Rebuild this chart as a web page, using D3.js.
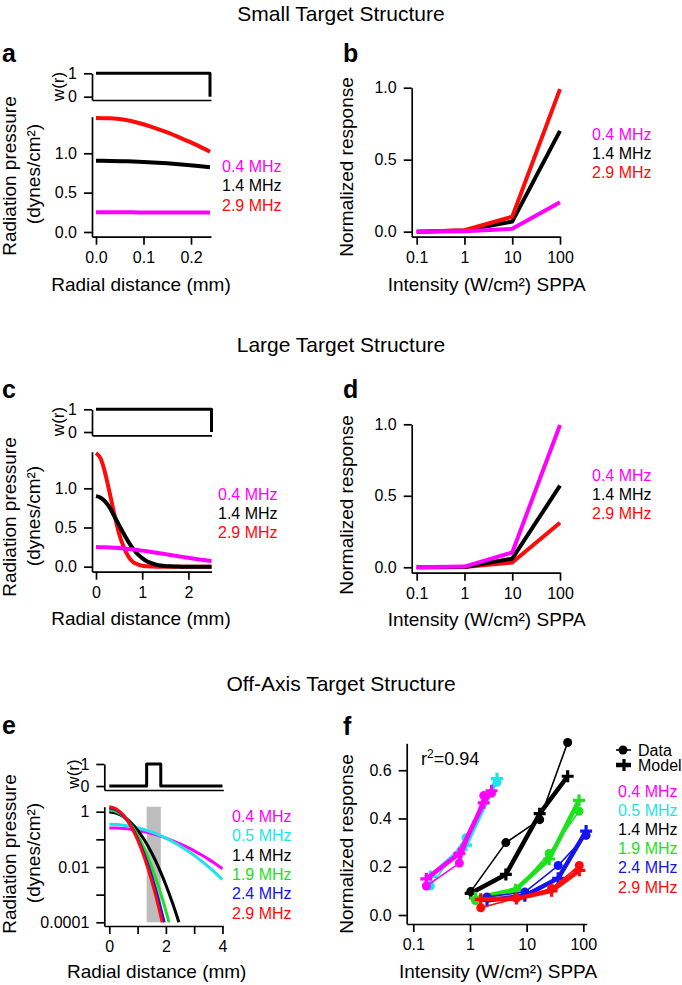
<!DOCTYPE html>
<html><head><meta charset="utf-8">
<script src="https://cdn.jsdelivr.net/npm/d3@7"></script>
<style>body{margin:0;background:#fff}svg{display:block}</style>
</head><body><script>
// ================= DATA =================
const freqLabels3 = ["0.4 MHz", "1.4 MHz", "2.9 MHz"];
const freqLabels6 = ["0.4 MHz", "0.5 MHz", "1.4 MHz", "1.9 MHz", "2.4 MHz", "2.9 MHz"];

// Panel a : small target, radiation pressure vs radial distance (mm)
const aRadius = [0, 0.03, 0.06, 0.09, 0.12, 0.15, 0.18, 0.21, 0.24];
const aP04 = [0.25, 0.25, 0.25, 0.249, 0.249, 0.248, 0.248, 0.247, 0.246];
const aP14 = [0.905, 0.903, 0.899, 0.893, 0.884, 0.872, 0.858, 0.841, 0.822];
const aP29 = [1.45, 1.445, 1.425, 1.385, 1.33, 1.265, 1.19, 1.11, 1.02];
const aWr = [0, 0.24, 0.24];
const aW = [1, 1, 0];

// Panel b : small target, normalized response vs intensity
const intensity = [0.1, 1, 10, 100];
const bR04 = [0, 0.003, 0.02, 0.204];
const bR14 = [0, 0.008, 0.07, 0.70];
const bR29 = [0, 0.01, 0.104, 0.99];

// Panel c : large target
const cRadius = [0, 0.1, 0.2, 0.3, 0.4, 0.5, 0.6, 0.7, 0.8, 0.9, 1.0, 1.1, 1.2, 1.3, 1.4, 1.5, 1.6, 1.7, 1.8, 1.9, 2.0, 2.1, 2.2, 2.3, 2.4, 2.5];
const cP04 = [0.25, 0.2495, 0.248, 0.2455, 0.242, 0.238, 0.233, 0.227, 0.220, 0.213, 0.205, 0.197, 0.188, 0.179, 0.169, 0.160, 0.150, 0.141, 0.131, 0.122, 0.113, 0.104, 0.095, 0.087, 0.079, 0.072];
const cP14 = [0.90, 0.88, 0.83, 0.75, 0.64, 0.53, 0.42, 0.32, 0.23, 0.16, 0.11, 0.07, 0.045, 0.026, 0.015, 0.008, 0.004, 0.002, 0.001, 0, 0, 0, 0, 0, 0, 0];
const cP29 = [1.45, 1.38, 1.19, 0.93, 0.66, 0.42, 0.25, 0.13, 0.06, 0.03, 0.012, 0.005, 0.002, 0, 0, 0, 0, 0, 0, 0, 0, 0, 0, 0, 0, 0];
const cWr = [0, 2.5, 2.5];
const cW = [1, 1, 0];

// Panel d : large target response
const dR04 = [0, 0.005, 0.103, 0.995];
const dR14 = [0, 0.002, 0.06, 0.571];
const dR29 = [0, 0.001, 0.033, 0.312];

// Panel e : off-axis target (log pressure)
const eWr = [0, 1.32, 1.32, 1.82, 1.82, 4];
const eW = [0, 0, 1, 1, 0, 0];
const eBand = [1.32, 1.82];
const eRadiusWide = [0, 0.25, 0.5, 0.75, 1, 1.25, 1.5, 1.75, 2, 2.25, 2.5, 2.75, 3, 3.25, 3.5, 3.75, 4];
const eP04 = [0.26, 0.2566, 0.247, 0.2307, 0.21, 0.1866, 0.161, 0.1357, 0.111, 0.0888, 0.069, 0.0522, 0.0385, 0.0276, 0.0193, 0.0131, 0.0087];
const eP05 = [0.35, 0.344, 0.326, 0.298, 0.262, 0.223, 0.183, 0.145, 0.111, 0.0816, 0.0579, 0.0397, 0.0263, 0.0167, 0.0103, 0.0061, 0.0035];
const eR14 = [0, 0.25, 0.5, 0.75, 1, 1.25, 1.5, 1.75, 2, 2.25, 2.46];
const eP14 = [0.97, 0.883, 0.664, 0.413, 0.213, 0.0907, 0.032, 0.00934, 0.00224, 0.000447, 0.0001];
const eR19 = [0, 0.25, 0.5, 0.75, 1, 1.25, 1.5, 1.75, 2, 2.11];
const eP19 = [1.15, 1.01, 0.68, 0.353, 0.140, 0.0432, 0.0101, 0.00184, 0.00026, 0.0001];
const eR24 = [0, 0.25, 0.5, 0.75, 1, 1.25, 1.5, 1.75, 1.94];
const eP24 = [1.35, 1.153, 0.718, 0.326, 0.1077, 0.026, 0.00458, 0.000588, 0.0001];
const eR29 = [0, 0.25, 0.5, 0.75, 1, 1.25, 1.5, 1.75, 1.87];
const eP29 = [1.5, 1.26, 0.754, 0.319, 0.0959, 0.0204, 0.00308, 0.00033, 0.0001];

// Panel f : data vs model
const f04I = [0.17, 0.65, 1.75, 2.4];
const f04Data = [0.12, 0.215, 0.495, 0.505];
const f04Model = [0.15, 0.255, 0.465, 0.515];
const f05I = [0.2, 0.85, 3.0];
const f05Data = [0.12, 0.32, 0.55];
const f05Model = [0.16, 0.29, 0.565];
const f14I = [1.03, 4.3, 17, 53];
const f14Data = [0.097, 0.30, 0.395, 0.715];
const f14Model = [0.09, 0.168, 0.42, 0.575];
const f19I = [1.25, 6.4, 25, 84];
const f19Data = [0.06, 0.10, 0.255, 0.43];
const f19Model = [0.07, 0.105, 0.232, 0.475];
const f24I = [2.0, 9.3, 36, 112];
const f24Data = [0.075, 0.095, 0.205, 0.33];
const f24Model = [0.06, 0.08, 0.152, 0.348];
const f29I = [1.55, 6.6, 27.5, 85];
const f29Data = [0.03, 0.07, 0.11, 0.205];
const f29Model = [0.065, 0.068, 0.10, 0.185];
const rSquared = "0.94";

// ================= STYLE =================
const FONT = "'Liberation Sans', Arial, Helvetica, sans-serif";
const C = {"0.4": "#ff00ff", "0.5": "#1ee3ea", "1.4": "#000000", "1.9": "#1ee01e", "2.4": "#1414f0", "2.9": "#ff0a0a"};
const col3 = [C["0.4"], C["1.4"], C["2.9"]];
const col6 = [C["0.4"], C["0.5"], C["1.4"], C["1.9"], C["2.4"], C["2.9"]];
const TICK_FS = 16, TITLE_FS = 19, LEG_FS = 16;

const svg = d3.select("body").append("svg").attr("width", 682).attr("height", 985)
  .attr("font-family", FONT);

function styleAxis(g) {
  g.attr("font-family", FONT).attr("font-size", TICK_FS);
  g.selectAll("path.domain").attr("stroke", "#000").attr("stroke-width", 1.7);
  g.selectAll(".tick line").attr("stroke", "#000").attr("stroke-width", 1.7);
  g.selectAll(".tick text").attr("fill", "#000");
}
function addAxis(gen, tx, ty) {
  const g = svg.append("g").attr("transform", `translate(${tx},${ty})`).call(gen);
  styleAxis(g);
  return g;
}
function line(xs, ys, xS, yS, color, w, curve) {
  const pts = xs.map((x, i) => [x, ys[i]]);
  svg.append("path").datum(pts)
    .attr("d", d3.line().x(d => xS(d[0])).y(d => yS(d[1])).curve(curve || d3.curveLinear))
    .attr("fill", "none").attr("stroke", color).attr("stroke-width", w)
    .attr("stroke-linejoin", "round");
}
function text(x, y, s, o = {}) {
  const t = svg.append("text").attr("x", x).attr("y", y).text(s)
    .attr("font-size", o.fs || TITLE_FS).attr("fill", o.fill || "#000")
    .attr("text-anchor", o.anchor || "start");
  if (o.bold) t.attr("font-weight", "bold");
  return t;
}
function vtext(x, y, s, fs) {
  svg.append("text").attr("transform", `translate(${x},${y}) rotate(-90)`)
    .attr("text-anchor", "middle").attr("font-size", fs || TITLE_FS).attr("fill", "#000").text(s);
}
function legend(x, y0, dy, labels, colors) {
  labels.forEach((l, i) => text(x, y0 + i * dy, l, {fs: LEG_FS, fill: colors[i]}));
}
const TK = 8, PAD = 7;

// ================= SECTION TITLES =================
text(341, 21, "Small Target Structure", {fs: 21, anchor: "middle"});
text(341, 352, "Large Target Structure", {fs: 21, anchor: "middle"});
text(341, 691, "Off-Axis Target Structure", {fs: 21, anchor: "middle"});

// ================= PANEL A =================
text(2, 62, "a", {fs: 25, bold: true});
const xA = d3.scaleLinear().domain([-0.0084, 0.2421]).range([92, 211]);
const yWa = d3.scaleLinear().domain([-0.141, 1]).range([100, 73.3]);
const yA = d3.scaleLinear().domain([-0.06, 1.465]).range([236.7, 116.7]);
addAxis(d3.axisLeft(yWa).tickValues([0, 1]).tickFormat(d3.format("d")).tickSize(TK).tickPadding(PAD).tickSizeOuter(0), 92, 0);
addAxis(d3.axisBottom(xA).tickValues([]).tickSizeOuter(0), 0, 100);
line(aWr, aW, xA, yWa, "#000", 3);
addAxis(d3.axisLeft(yA).tickValues([0, 0.5, 1.0]).tickFormat(d3.format(".1f")).tickSize(TK).tickPadding(PAD).tickSizeOuter(0), 92, 0);
addAxis(d3.axisBottom(xA).tickValues([0, 0.1, 0.2]).tickFormat(d3.format(".1f")).tickSize(TK).tickPadding(PAD).tickSizeOuter(0), 0, 236.7);
line(aRadius, aP29, xA, yA, C["2.9"], 4, d3.curveMonotoneX);
line(aRadius, aP14, xA, yA, C["1.4"], 4, d3.curveMonotoneX);
line(aRadius, aP04, xA, yA, C["0.4"], 4, d3.curveMonotoneX);
legend(222, 172, 19.3, freqLabels3, col3);
vtext(64, 86.5, "w(r)", 17);
vtext(16, 176, "Radiation pressure");
vtext(40, 174, "(dynes/cm²)");
text(141, 291, "Radial distance (mm)", {anchor: "middle"});

// ================= PANEL B =================
text(343, 62, "b", {fs: 25, bold: true});
const xB = d3.scaleLog().domain([0.0786, 100]).range([411.7, 560]);
const yB = d3.scaleLinear().domain([-0.035, 1.0]).range([236.7, 87.7]);
addAxis(d3.axisLeft(yB).tickValues([0, 0.5, 1.0]).tickFormat(d3.format(".1f")).tickSize(TK).tickPadding(PAD).tickSizeOuter(0), 411.7, 0);
addAxis(d3.axisBottom(xB).tickValues(intensity).tickFormat(d => String(d)).tickSize(TK).tickPadding(PAD).tickSizeOuter(0), 0, 236.7);
line(intensity, bR14, xB, yB, C["1.4"], 4);
line(intensity, bR29, xB, yB, C["2.9"], 4);
line(intensity, bR04, xB, yB, C["0.4"], 4);
legend(592, 140, 19, freqLabels3, col3);
vtext(353, 167, "Normalized response");
text(486.7, 291, "Intensity (W/cm²) SPPA", {anchor: "middle"});

// ================= PANEL C =================
text(2, 398, "c", {fs: 25, bold: true});
const xC = d3.scaleLinear().domain([-0.0866, 2.5]).range([92, 211.5]);
const yWc = d3.scaleLinear().domain([-0.145, 1]).range([435.3, 409.3]);
const yC = d3.scaleLinear().domain([-0.064, 1.467]).range([571.7, 451.7]);
addAxis(d3.axisLeft(yWc).tickValues([0, 1]).tickFormat(d3.format("d")).tickSize(TK).tickPadding(PAD).tickSizeOuter(0), 92, 0);
addAxis(d3.axisBottom(xC).tickValues([]).tickSizeOuter(0), 0, 435.3);
line(cWr, cW, xC, yWc, "#000", 3);
addAxis(d3.axisLeft(yC).tickValues([0, 0.5, 1.0]).tickFormat(d3.format(".1f")).tickSize(TK).tickPadding(PAD).tickSizeOuter(0), 92, 0);
addAxis(d3.axisBottom(xC).tickValues([0, 1, 2]).tickFormat(d3.format("d")).tickSize(TK).tickPadding(PAD).tickSizeOuter(0), 0, 571.7);
line(cRadius, cP29, xC, yC, C["2.9"], 4, d3.curveMonotoneX);
line(cRadius, cP14, xC, yC, C["1.4"], 4, d3.curveMonotoneX);
line(cRadius, cP04, xC, yC, C["0.4"], 4, d3.curveMonotoneX);
legend(218, 500, 19.2, freqLabels3, col3);
vtext(64, 421.5, "w(r)", 17);
vtext(16, 517, "Radiation pressure");
vtext(40, 516, "(dynes/cm²)");
text(141, 625, "Radial distance (mm)", {anchor: "middle"});

// ================= PANEL D =================
text(343, 398, "d", {fs: 25, bold: true});
const xD = d3.scaleLog().domain([0.0786, 100]).range([411.7, 560]);
const yD = d3.scaleLinear().domain([-0.038, 1.0]).range([572.7, 424.3]);
addAxis(d3.axisLeft(yD).tickValues([0, 0.5, 1.0]).tickFormat(d3.format(".1f")).tickSize(TK).tickPadding(PAD).tickSizeOuter(0), 411.7, 0);
addAxis(d3.axisBottom(xD).tickValues(intensity).tickFormat(d => String(d)).tickSize(TK).tickPadding(PAD).tickSizeOuter(0), 0, 572.7);
line(intensity, dR29, xD, yD, C["2.9"], 4);
line(intensity, dR14, xD, yD, C["1.4"], 4);
line(intensity, dR04, xD, yD, C["0.4"], 4);
legend(592, 481, 18.8, freqLabels3, col3);
vtext(353, 505, "Normalized response");
text(486.7, 626, "Intensity (W/cm²) SPPA", {anchor: "middle"});

// ================= PANEL E =================
text(2, 734, "e", {fs: 25, bold: true});
const xE = d3.scaleLinear().domain([-0.177, 4.03]).range([104.3, 223.3]);
const yWe = d3.scaleLinear().domain([-0.18, 1]).range([790, 764]);
const yE = d3.scaleLog().domain([7.35e-5, 1.517]).range([926, 806.7]);
addAxis(d3.axisLeft(yWe).tickValues([0, 1]).tickFormat(d3.format("d")).tickSize(TK).tickPadding(PAD).tickSizeOuter(0), 104.3, 0);
addAxis(d3.axisBottom(xE).tickValues([]).tickSizeOuter(0), 0, 790);
line(eWr, eW, xE, yWe, "#000", 3);
svg.append("rect").attr("x", xE(eBand[0])).attr("width", xE(eBand[1]) - xE(eBand[0]))
  .attr("y", yE(1.517)).attr("height", yE(0.0001) - yE(1.517)).attr("fill", "#bdbdbd");
const eLabels = {"1": "1", "0.01": "0.01", "0.0001": "0.0001"};
addAxis(d3.axisLeft(yE).tickValues([1, 0.1, 0.01, 0.001, 0.0001]).tickFormat(d => eLabels[String(d)] || "").tickSize(TK).tickPadding(PAD).tickSizeOuter(0), 104.3, 0);
addAxis(d3.axisBottom(xE).tickValues([0, 1, 2, 3, 4]).tickFormat(d => d % 2 === 0 ? String(d) : "").tickSize(TK).tickPadding(PAD).tickSizeOuter(0), 0, 926);
line(eRadiusWide, eP04, xE, yE, C["0.4"], 3, d3.curveMonotoneX);
line(eRadiusWide, eP05, xE, yE, C["0.5"], 3, d3.curveMonotoneX);
line(eR14, eP14, xE, yE, C["1.4"], 3, d3.curveMonotoneX);
line(eR19, eP19, xE, yE, C["1.9"], 3, d3.curveMonotoneX);
line(eR24, eP24, xE, yE, C["2.4"], 3, d3.curveMonotoneX);
line(eR29, eP29, xE, yE, C["2.9"], 3, d3.curveMonotoneX);
legend(232, 822, 19.3, freqLabels6, col6);
vtext(79, 774, "w(r)", 17);
vtext(16, 854, "Radiation pressure");
vtext(40, 853, "(dynes/cm²)");
text(156.7, 978, "Radial distance (mm)", {anchor: "middle"});

// ================= PANEL F =================
text(343, 735, "f", {fs: 25, bold: true});
const xF = d3.scaleLog().domain([0.0765, 114.8]).range([406.7, 586.7]);
const yF = d3.scaleLinear().domain([-0.0373, 0.7116]).range([924, 743.3]);
addAxis(d3.axisLeft(yF).tickValues([0, 0.2, 0.4, 0.6]).tickFormat(d3.format(".1f")).tickSize(TK).tickPadding(PAD).tickSizeOuter(0), 406.7, 0);
addAxis(d3.axisBottom(xF).tickValues(intensity).tickFormat(d => String(d)).tickSize(TK).tickPadding(PAD).tickSizeOuter(0), 0, 924);
const plusPath = "M-6,0H6M0,-6V6";
function series(I, dat, mod, color) {
  line(I, dat, xF, yF, color, 1.6);
  line(I, mod, xF, yF, color, 4.5);
  I.forEach((x, i) => {
    svg.append("circle").attr("cx", xF(x)).attr("cy", yF(dat[i])).attr("r", 4.5).attr("fill", color);
    svg.append("path").attr("d", plusPath).attr("transform", `translate(${xF(x)},${yF(mod[i])})`)
      .attr("stroke", color).attr("stroke-width", 3.2).attr("fill", "none");
  });
}
series(f05I, f05Data, f05Model, C["0.5"]);
series(f04I, f04Data, f04Model, C["0.4"]);
series(f14I, f14Data, f14Model, C["1.4"]);
series(f19I, f19Data, f19Model, C["1.9"]);
series(f24I, f24Data, f24Model, C["2.4"]);
series(f29I, f29Data, f29Model, C["2.9"]);
svg.append("text").attr("x", 421).attr("y", 765).attr("font-size", 18)
  .html("r<tspan dy='-7' font-size='12'>2</tspan><tspan dy='7'>=" + rSquared + "</tspan>");
// Data / Model key
svg.append("line").attr("x1", 616).attr("x2", 631).attr("y1", 750).attr("y2", 750).attr("stroke", "#000").attr("stroke-width", 1.6);
svg.append("circle").attr("cx", 623).attr("cy", 750).attr("r", 4.5).attr("fill", "#000");
text(638, 755.5, "Data", {fs: 16});
svg.append("line").attr("x1", 616).attr("x2", 631).attr("y1", 765).attr("y2", 765).attr("stroke", "#000").attr("stroke-width", 4.5);
svg.append("path").attr("d", plusPath).attr("transform", "translate(624,765)").attr("stroke", "#000").attr("stroke-width", 3.2);
text(638, 771, "Model", {fs: 16});
legend(618, 797, 19.1, freqLabels6, col6);
vtext(353, 844, "Normalized response");
text(498, 978, "Intensity (W/cm²) SPPA", {anchor: "middle"});
</script></body></html>
